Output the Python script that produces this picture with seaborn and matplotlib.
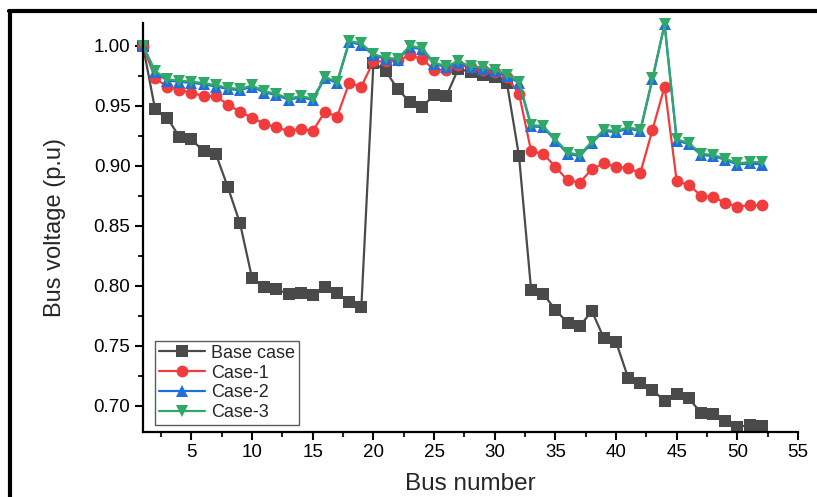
import numpy as np
import pandas as pd
import matplotlib
matplotlib.use("Agg")
import matplotlib.pyplot as plt
from matplotlib.lines import Line2D
from matplotlib.ticker import MultipleLocator
import seaborn as sns

bus = list(range(1, 53))
base_case = [1.000, 0.947, 0.940, 0.924, 0.922, 0.912, 0.910, 0.882, 0.852, 0.806,
             0.799, 0.797, 0.793, 0.794, 0.792, 0.799, 0.794, 0.786, 0.782, 0.986,
             0.979, 0.964, 0.953, 0.949, 0.959, 0.958, 0.981, 0.978, 0.976, 0.974,
             0.969, 0.908, 0.796, 0.793, 0.780, 0.769, 0.766, 0.779, 0.756, 0.753,
             0.723, 0.719, 0.713, 0.704, 0.710, 0.706, 0.694, 0.693, 0.687, 0.682,
             0.684, 0.683]
case_1 = [1.000, 0.973, 0.966, 0.963, 0.961, 0.958, 0.958, 0.951, 0.945, 0.940,
          0.935, 0.932, 0.929, 0.931, 0.929, 0.945, 0.941, 0.969, 0.966, 0.987,
          0.987, 0.988, 0.992, 0.989, 0.980, 0.980, 0.984, 0.982, 0.980, 0.978,
          0.974, 0.960, 0.912, 0.910, 0.899, 0.888, 0.886, 0.897, 0.902, 0.899,
          0.898, 0.894, 0.930, 0.966, 0.887, 0.884, 0.875, 0.874, 0.869, 0.866,
          0.867, 0.867]
case_2 = [1.000, 0.978, 0.971, 0.970, 0.969, 0.968, 0.966, 0.964, 0.963, 0.966,
          0.961, 0.959, 0.955, 0.957, 0.955, 0.973, 0.969, 1.003, 1.001, 0.992,
          0.989, 0.988, 0.999, 0.997, 0.985, 0.982, 0.986, 0.982, 0.981, 0.979,
          0.975, 0.969, 0.933, 0.932, 0.921, 0.910, 0.908, 0.919, 0.929, 0.928,
          0.931, 0.929, 0.972, 1.018, 0.921, 0.918, 0.909, 0.908, 0.905, 0.901,
          0.902, 0.901]
case_3 = [1.000, 0.979, 0.972, 0.971, 0.970, 0.969, 0.967, 0.965, 0.964, 0.967,
          0.962, 0.960, 0.956, 0.958, 0.956, 0.974, 0.970, 1.004, 1.002, 0.993,
          0.990, 0.989, 1.000, 0.998, 0.986, 0.983, 0.987, 0.983, 0.982, 0.980,
          0.976, 0.970, 0.934, 0.933, 0.922, 0.911, 0.909, 0.920, 0.930, 0.929,
          0.932, 0.930, 0.973, 1.018, 0.922, 0.919, 0.910, 0.909, 0.906, 0.902,
          0.903, 0.903]
series_names = ["Base case", "Case-1", "Case-2", "Case-3"]

df = pd.DataFrame({
    "Bus": bus * 4,
    "Voltage": base_case + case_1 + case_2 + case_3,
    "Series": sum([[n] * len(bus) for n in series_names], []),
})

sns.set_theme(style="white")
plt.rcParams["font.family"] = ["Liberation Sans", "DejaVu Sans"]

palette = {"Base case": "#4a4a4a", "Case-1": "#f03c3c",
           "Case-2": "#1f6ee0", "Case-3": "#2fa868"}
markers = {"Base case": "s", "Case-1": "o", "Case-2": "^", "Case-3": "v"}

fig = plt.figure(figsize=(8.17, 4.97), dpi=100)
ax = fig.add_axes([0.175, 0.1308, 0.8018, 0.8229])

sns.lineplot(data=df, x="Bus", y="Voltage", hue="Series", style="Series",
             hue_order=series_names, style_order=series_names,
             palette=palette, markers=markers, dashes=False,
             markersize=8.5, markeredgewidth=0, linewidth=1.6,
             ax=ax, clip_on=False)

ax.set_xlim(1, 55)
ax.set_ylim(0.678, 1.019)
ax.xaxis.set_minor_locator(MultipleLocator(2.5))
ax.yaxis.set_minor_locator(MultipleLocator(0.025))
ax.set_xticks([5, 10, 15, 20, 25, 30, 35, 40, 45, 50, 55])
ax.set_yticks([0.70, 0.75, 0.80, 0.85, 0.90, 0.95, 1.00])
ax.set_yticklabels(["0.70", "0.75", "0.80", "0.85", "0.90", "0.95", "1.00"])

for s in ["top", "right"]:
    ax.spines[s].set_visible(False)
for s in ["left", "bottom"]:
    ax.spines[s].set_linewidth(1.6)
    ax.spines[s].set_color("black")

ax.tick_params(axis="both", which="major", direction="out", length=6, width=1.5,
               labelsize=13.5, colors="black", bottom=True, left=True, pad=3)
ax.tick_params(axis="both", which="minor", direction="out", length=3.5, width=1.5,
               bottom=True, left=True)
ax.set_xlabel("Bus number", fontsize=17.5, labelpad=8)
ax.set_ylabel("Bus voltage (p.u)", fontsize=17, labelpad=20)

leg = ax.legend(loc="lower left", bbox_to_anchor=(0.01, 0.005), fontsize=13,
                frameon=True, fancybox=False, edgecolor="#333333",
                handlelength=2.6, handletextpad=0.3, borderpad=0.2,
                labelspacing=0.15, borderaxespad=0.3)
leg.get_frame().set_linewidth(1.0)

# outer frame (left and top edges)
fig.add_artist(Line2D([0.0128, 0.0128], [0.0, 0.977], transform=fig.transFigure,
                      color="black", linewidth=3))
fig.add_artist(Line2D([0.0110, 1.0], [0.977, 0.977], transform=fig.transFigure,
                      color="black", linewidth=3))

fig.savefig("out.png", dpi=100)
